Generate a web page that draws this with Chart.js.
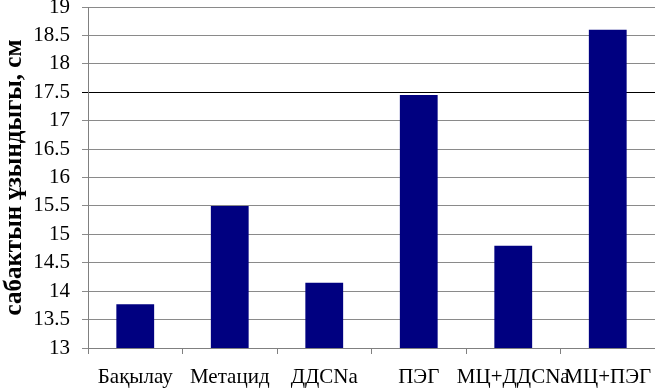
<!DOCTYPE html>
<html>
<head>
<meta charset="utf-8">
<script src="https://cdn.jsdelivr.net/npm/chart.js@4/dist/chart.umd.min.js"></script>
<style>
html,body{margin:0;padding:0;background:#fff;}
#wrap{width:655px;height:391px;position:relative;}
</style>
</head>
<body>
<div id="wrap"><canvas id="c" width="655" height="391"></canvas></div>
<script>
const categories = ["Бақылау", "Метацид", "ДДСNa", "ПЭГ", "МЦ+ДДСNa", "МЦ+ПЭГ"];
const values = [13.77, 15.5, 14.15, 17.45, 14.8, 18.6];
const yTitle = "сабактын ұзындыгы, см";
const yMin = 13, yMax = 19, yStep = 0.5;

new Chart(document.getElementById('c'), {
  type: 'bar',
  data: {
    labels: categories,
    datasets: [{
      data: values,
      backgroundColor: '#000080',
      borderWidth: 0,
      categoryPercentage: 1,
      barPercentage: 0.4
    }]
  },
  options: {
    responsive: false,
    animation: false,
    layout: { padding: { top: 7, right: 0, left: 0, bottom: 0 } },
    plugins: { legend: { display: false }, tooltip: { enabled: false } },
    scales: {
      x: {
        grid: { drawOnChartArea: false, drawTicks: true, tickLength: 6, color: '#808080', offset: true },
        border: { color: '#808080', width: 1 },
        ticks: { color: '#000', font: { family: 'Liberation Serif', size: 21 }, padding: 11, maxRotation: 0, minRotation: 0, autoSkip: false },
        afterFit: s => { s.height = 43; s.paddingLeft = 0; s.paddingRight = 0; }
      },
      y: {
        min: yMin, max: yMax,
        ticks: {
          stepSize: yStep, color: '#000', padding: 12,
          font: { family: 'Liberation Serif', size: 21 },
          callback: v => String(v)
        },
        grid: {
          color: ctx => (ctx.tick && ctx.tick.value === 17.5) ? '#000' : '#8a8a8a',
          lineWidth: 1, tickLength: 6
        },
        border: { color: '#808080', width: 1 },
        title: {
          display: true, text: yTitle, color: '#000',
          font: { family: 'Liberation Serif', size: 25, weight: 'bold' },
          padding: 0
        },
        afterFit: s => { s.width = 88; s.paddingTop = 0; s.paddingBottom = 0; }
      }
    }
  }
});
</script>
</body>
</html>
